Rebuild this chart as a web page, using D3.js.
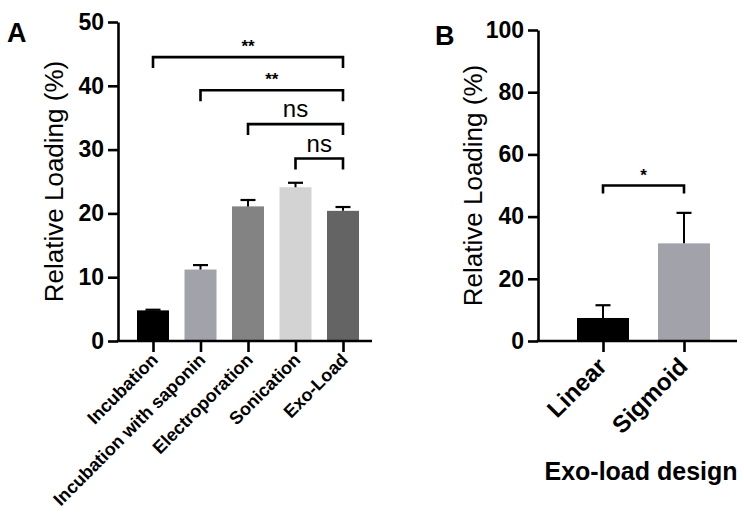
<!DOCTYPE html>
<html><head><meta charset="utf-8">
<script src="https://cdn.jsdelivr.net/npm/d3@7"></script>
<style>body{margin:0;background:#fff}svg{display:block}text{font-family:"Liberation Sans",Arial,sans-serif}</style>
</head><body><svg id="c" width="744" height="513"></svg>
<script>
// Panel A data
const catsA = ["Incubation","Incubation with saponin","Electroporation","Sonication","Exo-Load"];
const valsA = [4.8, 11.2, 21.1, 24.1, 20.4];
const errA  = [0.1, 0.7, 1.0, 0.7, 0.6];
const colorsA = ["#000000","#a2a2aa","#838383","#d3d3d3","#646464"];
const ticksA = [0,10,20,30,40,50];
const sigA = [ // [from, to, bracket height, label]
  [0,4,44.5,"**"],[1,4,39.3,"**"],[2,4,34,"ns"],[3,4,28.6,"ns"]
];
// Panel B data
const catsB = ["Linear","Sigmoid"];
const valsB = [7.4, 31.4];
const errB  = [4.1, 9.8];
const colorsB = ["#000000","#a2a2aa"];
const ticksB = [0,20,40,60,80,100];
const sigB = [[0,1,50,"*"]];

const svg = d3.select("#c");
const font = '"Liberation Sans",Arial,sans-serif';

function panel(o){
  const g = svg.append("g");
  const y = d3.scaleLinear().domain(o.ydom).range([o.y0, o.y1]);
  const x = d3.scalePoint().domain(o.cats).range(o.xr);
  g.selectAll("rect.bar").data(o.vals).join("rect")
    .attr("x",(d,i)=>x(o.cats[i])-o.bw/2).attr("width",o.bw)
    .attr("y",d=>y(d)).attr("height",d=>y(0)-y(d))
    .attr("fill",(d,i)=>o.colors[i]);
  o.vals.forEach((v,i)=>{
    const cx = x(o.cats[i]);
    g.append("line").attr("x1",cx).attr("x2",cx).attr("y1",y(v)).attr("y2",y(v+o.err[i])).attr("stroke","#000").attr("stroke-width",2);
    g.append("line").attr("x1",cx-o.cap/2).attr("x2",cx+o.cap/2).attr("y1",y(v+o.err[i])).attr("y2",y(v+o.err[i])).attr("stroke","#000").attr("stroke-width",2.2);
  });
  const ya = g.append("g").attr("transform",`translate(${o.ax},0)`)
    .call(d3.axisLeft(y).tickValues(o.ticks).tickSize(10).tickPadding(4).tickSizeOuter(0));
  ya.select(".domain").attr("stroke-width",2.6);
  ya.selectAll(".tick line").attr("stroke-width",2.6);
  ya.selectAll(".tick text").attr("font-size",o.tfs).attr("font-weight","bold").attr("font-family",font).attr("fill","#000");
  g.append("line").attr("x1",o.ax-1.3).attr("x2",o.xend).attr("y1",y(0)).attr("y2",y(0)).attr("stroke","#000").attr("stroke-width",2.6);
  const xa = g.append("g").attr("transform",`translate(0,${y(0)})`)
    .call(d3.axisBottom(x).tickSize(11).tickSizeOuter(0).tickFormat(""));
  xa.select(".domain").remove();
  xa.selectAll(".tick line").attr("stroke-width",2.6);
  o.cats.forEach(c=>{
    g.append("text").attr("transform",`translate(${x(c)+o.lx},${y(0)+o.ly}) rotate(-45)`)
      .attr("text-anchor","end").attr("font-size",o.cfs).attr("font-weight","bold").attr("fill","#000").text(c);
  });
  g.append("text").attr("transform",`translate(${o.tx},${(o.y0+o.y1)/2}) rotate(-90)`)
    .attr("text-anchor","middle").attr("font-size",26).attr("font-weight",500).attr("fill","#000").text("Relative Loading (%)");
  o.sig.forEach(s=>{
    const x1 = x(o.cats[s[0]]), x2 = x(o.cats[s[1]]), yy = y(s[2]);
    g.append("path").attr("d",`M${x1},${yy+o.leg}V${yy}H${x2}V${yy+o.leg}`).attr("fill","none").attr("stroke","#000").attr("stroke-width",2.6);
    const star = s[3] !== "ns";
    g.append("text").attr("x",(x1+x2)/2).attr("y",yy-(star?5:7)).attr("text-anchor","middle")
      .attr("font-size",star?17:24).attr("font-weight",star?"bold":"normal").attr("fill","#000").text(s[3]);
  });
  g.append("text").attr("x",o.px).attr("y",o.py).attr("font-size",27).attr("font-weight","bold").attr("fill","#000").text(o.letter);
  return {x,y};
}

panel({cats:catsA, vals:valsA, err:errA, colors:colorsA, ticks:ticksA, sig:sigA,
  ydom:[0,50], y0:341, y1:22, xr:[153,343], bw:32, cap:15, ax:118, xend:372,
  tfs:23, cfs:18, lx:6, ly:20, tx:63, leg:11, px:7, py:42, letter:"A"});
panel({cats:catsB, vals:valsB, err:errB, colors:colorsB, ticks:ticksB, sig:sigB,
  ydom:[0,100], y0:341, y1:30, xr:[603,684], bw:52, cap:15, ax:538, xend:737,
  tfs:23, cfs:24, lx:5, ly:27, tx:482, leg:8, px:435, py:45, letter:"B"});

svg.append("text").attr("x",641).attr("y",480).attr("text-anchor","middle")
  .attr("font-size",25).attr("font-weight","bold").attr("fill","#000").text("Exo-load design");
</script></body></html>
